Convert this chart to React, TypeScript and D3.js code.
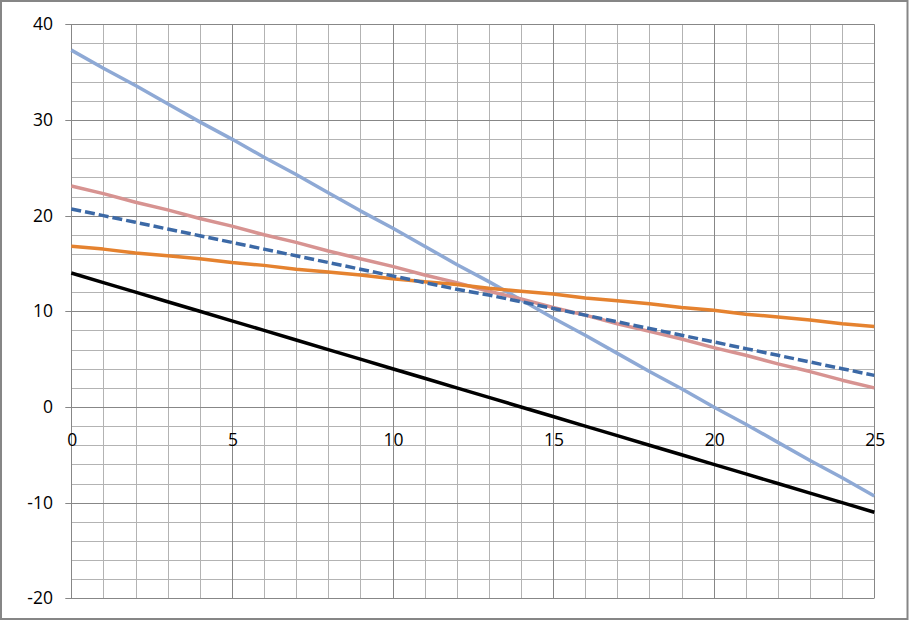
import React from "react";
import * as d3 from "d3";

const xs = [0,1,2,3,4,5,6,7,8,9,10,11,12,13,14,15,16,17,18,19,20,21,22,23,24,25];
const lightBlue = [37.3,35.4,33.6,31.7,29.8,28.0,26.1,24.3,22.4,20.5,18.7,16.8,14.9,13.1,11.2,9.3,7.5,5.6,3.7,1.9,0.0,-1.8,-3.7,-5.6,-7.4,-9.3];
const pink = [23.1,22.3,21.4,20.6,19.7,18.9,18.0,17.2,16.3,15.5,14.7,13.8,13.0,12.1,11.3,10.4,9.6,8.7,7.9,7.1,6.2,5.4,4.5,3.7,2.8,2.0];
const dashedBlue = [20.7,20.0,19.3,18.6,17.9,17.2,16.5,15.8,15.1,14.4,13.7,13.0,12.3,11.7,11.0,10.3,9.6,8.9,8.2,7.5,6.8,6.1,5.4,4.7,4.0,3.3];
const orange = [16.8,16.5,16.1,15.8,15.5,15.1,14.8,14.4,14.1,13.8,13.4,13.1,12.8,12.4,12.1,11.8,11.4,11.1,10.8,10.4,10.1,9.7,9.4,9.1,8.7,8.4];
const black = [14,13,12,11,10,9,8,7,6,5,4,3,2,1,0,-1,-2,-3,-4,-5,-6,-7,-8,-9,-10,-11];

const xTicks = [0,5,10,15,20,25];
const yTicks = [-20,-10,0,10,20,30,40];

const series = [
  { name: "lightBlue", values: lightBlue, color: "#8EA9D5", dash: "" },
  { name: "pink", values: pink, color: "#D79391", dash: "" },
  { name: "orange", values: orange, color: "#E5822F", dash: "" },
  { name: "dashedBlue", values: dashedBlue, color: "#3C69A6", dash: "10,4" },
  { name: "black", values: black, color: "#000000", dash: "" },
];

export default function App() {
  const W = 909, H = 621;
  const x = d3.scaleLinear().domain([0, 25]).range([71.3, 874.3]);
  const y = d3.scaleLinear().domain([-20, 40]).range([598.3, 24.3]);
  const minorX = d3.range(0, 26, 1);
  const minorY = d3.range(-20, 41, 2);
  const font = "'Open Sans', 'Liberation Sans', Arial, sans-serif";
  const px = (v: number) => Math.round(v) + 0.5;

  return (
    <svg width={W} height={H} style={{ position: "absolute", left: 0, top: 0, background: "#fff" }}>
      <rect x={0} y={0} width={W} height={H} fill="#fff" />
      <rect x={1} y={1} width={906.5} height={618} fill="none" stroke="#868686" strokeWidth={2} />
      <g>
        {minorX.filter(v => v % 5 !== 0).map(v => (
          <line key={"mx" + v} x1={px(x(v))} x2={px(x(v))} y1={y(40)} y2={y(-20)} stroke="#B3B3B3" strokeWidth={1} />
        ))}
        {minorY.filter(v => v % 10 !== 0).map(v => (
          <line key={"my" + v} x1={x(0)} x2={x(25)} y1={px(y(v))} y2={px(y(v))} stroke="#B3B3B3" strokeWidth={1} />
        ))}
        {xTicks.map(v => (
          <line key={"Mx" + v} x1={px(x(v))} x2={px(x(v))} y1={y(40)} y2={y(-20)} stroke="#878787" strokeWidth={1} />
        ))}
        {yTicks.map(v => (
          <line key={"My" + v} x1={x(0) - 6} x2={x(25)} y1={px(y(v))} y2={px(y(v))} stroke="#878787" strokeWidth={1} />
        ))}
      </g>
      <g>
        {series.map(s => {
          const line = d3.line<number>().x((_, i) => x(xs[i])).y(d => y(d));
          return (
            <path key={s.name} d={line(s.values) || ""} fill="none" stroke={s.color} strokeWidth={3.5}
              strokeDasharray={s.dash || undefined} strokeLinejoin="round" />
          );
        })}
      </g>
      <g fontFamily={font} fontSize={17.5} fill="#000">
        {yTicks.map(v => (
          <text key={"yl" + v} x={53} y={y(v) + 6} textAnchor="end">{v}</text>
        ))}
        {xTicks.map(v => (
          <text key={"xl" + v} x={x(v) + 1} y={y(0) + 39} textAnchor="middle">{v}</text>
        ))}
      </g>
    </svg>
  );
}
